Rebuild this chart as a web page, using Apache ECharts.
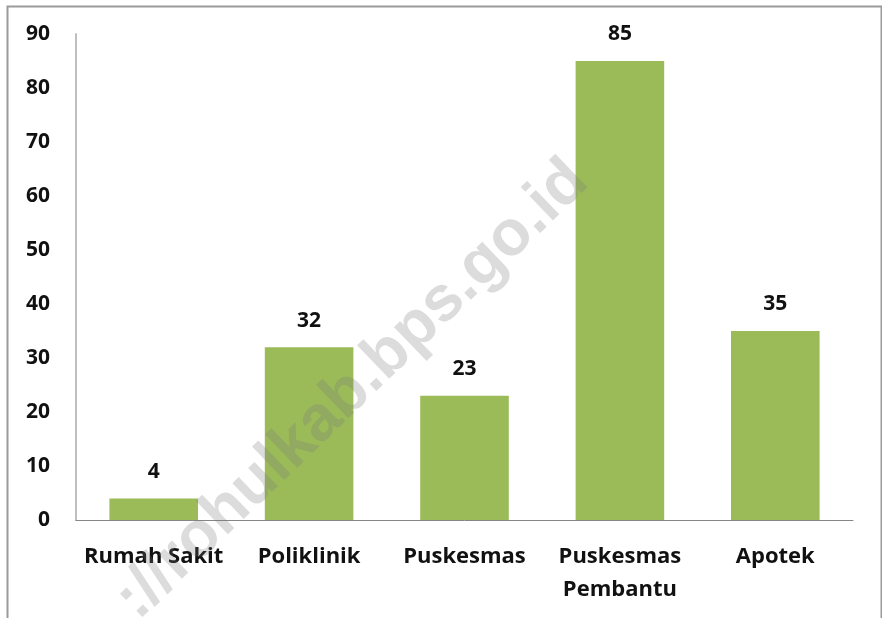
<!DOCTYPE html>
<html>
<head>
    <meta charset="UTF-8">
    <title>Fasilitas Kesehatan</title>
    <script type="text/javascript" src="https://cdn.jsdelivr.net/npm/echarts@6/dist/echarts.min.js"></script>
    <style>
        html, body { margin: 0; padding: 0; background: #fff; }
    </style>
</head>
<body>
<div id="main" style="width: 882px;height:618px;"></div>
<script type="text/javascript">
    // data
    var categories = ['Rumah Sakit', 'Poliklinik', 'Puskesmas', 'Puskesmas\nPembantu', 'Apotek'];
    var values = [4, 32, 23, 85, 35];
    var yTicks = [0, 10, 20, 30, 40, 50, 60, 70, 80, 90];

    var font = '"Open Sans", Lato, sans-serif';
    var myChart = echarts.init(document.getElementById('main'));

    var option = {
        backgroundColor: '#fff',
        animation: false,
        grid: { left: 76, right: 29, top: 34, bottom: 98 },
        xAxis: {
            type: 'category',
            data: categories,
            axisLine: { lineStyle: { color: '#868686', width: 1 } },
            axisTick: { show: false },
            axisLabel: {
                color: '#111', fontFamily: font, fontWeight: 'bold', fontSize: 22,
                margin: 20, lineHeight: 33, interval: 0
            }
        },
        yAxis: {
            type: 'value',
            min: yTicks[0],
            max: yTicks[yTicks.length - 1],
            interval: 10,
            axisLine: { show: true, lineStyle: { color: '#bfbfbf', width: 2 } },
            axisTick: { show: false },
            splitLine: { show: false },
            axisLabel: {
                color: '#111', fontFamily: font, fontWeight: 'bold', fontSize: 21, margin: 26
            }
        },
        series: [{
            type: 'bar',
            data: values,
            barCategoryGap: '43%',
            itemStyle: { color: '#9bbb59' },
            label: {
                show: true, position: 'top', distance: 16,
                color: '#111', fontFamily: font, fontWeight: 'bold', fontSize: 21
            }
        }],
        graphic: [
            {
                type: 'rect', left: 5, top: 4, z: 0,
                shape: { width: 874, height: 640 },
                style: { fill: 'none', stroke: '#9a9a9a', lineWidth: 2 }
            },
            {
                type: 'text', x: 352, y: 390, rotation: 44 * Math.PI / 180, z: 100,
                style: {
                    text: '://rohulkab.bps.go.id', fill: 'rgba(120,120,120,0.26)',
                    font: 'bold 64px Arial, "Liberation Sans", sans-serif',
                    align: 'center', verticalAlign: 'middle'
                }
            }
        ]
    };
    myChart.setOption(option);
</script>
</body>
</html>
